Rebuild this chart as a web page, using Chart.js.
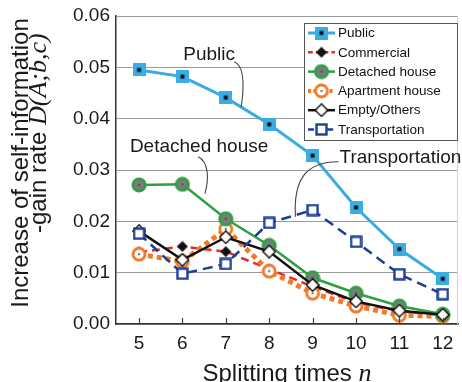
<!DOCTYPE html>
<html>
<head>
<meta charset="utf-8">
<script src="https://cdn.jsdelivr.net/npm/chart.js@4/dist/chart.umd.min.js"></script>
<style>
  html, body { margin: 0; padding: 0; background: #fff; }
  canvas { display: block; }
</style>
</head>
<body>
<canvas id="c" width="462" height="382"></canvas>
<script>
// Splitting times n
const splitTimes = [5, 6, 7, 8, 9, 10, 11, 12];

// Increase of self-information-gain rate per land-use class
const publicUse      = [0.0495, 0.0482, 0.0441, 0.0389, 0.0328, 0.0227, 0.0146, 0.0088];
const commercial     = [0.0140, 0.0151, 0.0141, 0.0107, 0.0073, 0.0042, 0.0025, 0.0017];
const detachedHouse  = [0.0271, 0.0272, 0.0205, 0.0153, 0.0090, 0.0060, 0.0035, 0.0019];
const apartmentHouse = [0.0136, 0.0122, 0.0185, 0.0103, 0.0060, 0.0035, 0.0017, 0.0015];
const emptyOthers    = [0.0181, 0.0125, 0.0169, 0.0141, 0.0076, 0.0044, 0.0026, 0.0018];
const transportation = [0.0176, 0.0098, 0.0117, 0.0197, 0.0222, 0.0160, 0.0097, 0.0058];

const yTicks = [0, 0.01, 0.02, 0.03, 0.04, 0.05, 0.06];

// ---- marker sprites ----
function sprite(size, paint) {
  const c = document.createElement('canvas');
  c.width = size; c.height = size;
  paint(c.getContext('2d'), size);
  return c;
}
const mkPublic = sprite(13, (g, s) => {
  g.fillStyle = '#3aaee4'; g.fillRect(0, 0, s, s);
  g.fillStyle = '#111'; g.fillRect(4.5, 4.5, 4, 4);
});
const mkCommercial = sprite(12, (g) => {
  g.beginPath(); g.moveTo(6, 0.5); g.lineTo(11.5, 6); g.lineTo(6, 11.5); g.lineTo(0.5, 6); g.closePath();
  g.fillStyle = '#111'; g.fill();
});
const mkDetached = sprite(16, (g) => {
  g.beginPath(); g.arc(8, 8, 6.2, 0, Math.PI * 2);
  g.fillStyle = '#7c7c7c'; g.fill();
  g.lineWidth = 2.8; g.strokeStyle = '#2ea043'; g.stroke();
  g.beginPath(); g.arc(8, 8, 1.3, 0, Math.PI * 2); g.fillStyle = '#555'; g.fill();
});
const mkApartment = sprite(16, (g) => {
  g.beginPath(); g.arc(8, 8, 6, 0, Math.PI * 2);
  g.fillStyle = '#fff'; g.fill();
  g.lineWidth = 2.8; g.strokeStyle = '#f07a28'; g.stroke();
  g.beginPath(); g.arc(8, 8, 1.2, 0, Math.PI * 2); g.fillStyle = '#777'; g.fill();
});
const mkEmpty = sprite(14, (g) => {
  g.beginPath(); g.moveTo(7, 0.8); g.lineTo(13.2, 7); g.lineTo(7, 13.2); g.lineTo(0.8, 7); g.closePath();
  g.fillStyle = '#fff'; g.fill();
  g.lineWidth = 1.4; g.strokeStyle = '#111'; g.stroke();
});
const mkTransport = sprite(13, (g) => {
  g.fillStyle = '#fff'; g.fillRect(1.5, 1.5, 10, 10);
  g.lineWidth = 2.4; g.strokeStyle = '#1c3f96'; g.strokeRect(1.5, 1.5, 10, 10);
});

const toPoints = (arr) => splitTimes.map((x, i) => ({ x, y: arr[i] }));

const datasets = [
  { label: 'Public', data: toPoints(publicUse), borderColor: '#38ace2', borderWidth: 3,
    pointStyle: mkPublic, order: 0 },
  { label: 'Commercial', data: toPoints(commercial), borderColor: '#e52b2b', borderWidth: 2.5,
    borderDash: [8, 5], pointStyle: mkCommercial, order: 5 },
  { label: 'Detached house', data: toPoints(detachedHouse), borderColor: '#2ea043', borderWidth: 2.5,
    pointStyle: mkDetached, order: 3 },
  { label: 'Apartment house', data: toPoints(apartmentHouse), borderColor: '#f07a28', borderWidth: 5,
    borderDash: [5, 4], pointStyle: mkApartment, order: 4 },
  { label: 'Empty/Others', data: toPoints(emptyOthers), borderColor: '#111', borderWidth: 2.5,
    pointStyle: mkEmpty, order: 2 },
  { label: 'Transportation', data: toPoints(transportation), borderColor: '#1c3f96', borderWidth: 2.5,
    borderDash: [10, 6], pointStyle: mkTransport, order: 1 },
];
datasets.forEach(d => { d.fill = false; d.tension = 0; d.pointRadius = 6; d.backgroundColor = d.borderColor; });

const SANS = '"Liberation Sans", Arial, sans-serif';
const SERIF = '"Liberation Serif", "Times New Roman", serif';

// Callout labels with curved leader lines, in data coordinates
const callouts = [
  { text: 'Public', at: [6.02, 0.0524],
    curve: [[7.195, 0.0511], [7.43, 0.0503], [7.43, 0.0466], [7.356, 0.0423]] },
  { text: 'Detached house', at: [4.79, 0.0345],
    curve: [[6.363, 0.0326], [6.60, 0.0316], [6.62, 0.0285], [6.52, 0.0254]] },
  { text: 'Transportation', at: [9.62, 0.0324],
    curve: [[9.597, 0.0316], [8.835, 0.0316], [8.557, 0.0281], [8.604, 0.0209]] },
];

const decorations = {
  id: 'decorations',
  beforeDatasetsDraw(chart) {
    const { ctx, chartArea } = chart;
    // faint right edge of the plot frame
    ctx.save();
    ctx.strokeStyle = '#cfd6e0'; ctx.lineWidth = 1;
    const rx = Math.round(chartArea.right) - 0.5;
    ctx.beginPath(); ctx.moveTo(rx, chartArea.top); ctx.lineTo(rx, chartArea.bottom); ctx.stroke();
    ctx.restore();
  },
  afterDatasetsDraw(chart) {
    const { ctx, scales: { x, y }, chartArea } = chart;
    const P = (p) => [x.getPixelForValue(p[0]), y.getPixelForValue(p[1])];
    ctx.save();

    // inward tick marks on the x axis
    ctx.strokeStyle = '#444'; ctx.lineWidth = 1.2;
    splitTimes.forEach(v => {
      const px = Math.round(x.getPixelForValue(v)) + 0.5;
      ctx.beginPath(); ctx.moveTo(px, chartArea.bottom); ctx.lineTo(px, chartArea.bottom - 6); ctx.stroke();
    });

    // callouts
    ctx.fillStyle = '#1a1a1a';
    ctx.font = '19px ' + SANS;
    ctx.textBaseline = 'middle';
    ctx.textAlign = 'left';
    callouts.forEach(c => {
      const [tx, ty] = P(c.at);
      ctx.fillText(c.text, tx, ty);
      const pts = c.curve.map(P);
      ctx.beginPath();
      ctx.moveTo(pts[0][0], pts[0][1]);
      ctx.bezierCurveTo(pts[1][0], pts[1][1], pts[2][0], pts[2][1], pts[3][0], pts[3][1]);
      ctx.strokeStyle = '#444'; ctx.lineWidth = 1.1; ctx.stroke();
    });

    // legend box
    const bx = 304.5, by = 23.5, bw = 153, bh = 117;
    ctx.fillStyle = '#fff'; ctx.fillRect(bx, by, bw, bh);
    ctx.strokeStyle = '#555'; ctx.lineWidth = 1; ctx.strokeRect(bx, by, bw, bh);
    ctx.font = '13.5px ' + SANS;
    ctx.textBaseline = 'middle';
    chart.data.datasets.forEach((d, i) => {
      const ry = 33 + i * 19.3;
      ctx.save();
      ctx.strokeStyle = d.borderColor;
      ctx.lineWidth = Math.min(d.borderWidth, 4);
      ctx.setLineDash(d.borderDash ? d.borderDash.map(v => v * 0.6) : []);
      ctx.beginPath(); ctx.moveTo(308, ry); ctx.lineTo(335, ry); ctx.stroke();
      ctx.restore();
      const s = d.pointStyle;
      ctx.drawImage(s, 321.5 - s.width / 2, ry - s.height / 2);
      ctx.fillStyle = '#111';
      ctx.fillText(d.label, 338, ry + 0.5);
    });

    ctx.restore();
  },
  afterDraw(chart) {
    const { ctx } = chart;
    ctx.save();
    ctx.fillStyle = '#1a1a1a';
    ctx.textBaseline = 'alphabetic';

    // y axis title (two rotated lines)
    ctx.save();
    ctx.translate(28, 163);
    ctx.rotate(-Math.PI / 2);
    ctx.font = '24px ' + SANS;
    ctx.textAlign = 'center';
    ctx.fillText('Increase of self-information', 0, 0);
    ctx.restore();

    ctx.save();
    ctx.translate(46, 233);
    ctx.rotate(-Math.PI / 2);
    ctx.textAlign = 'left';
    ctx.font = '24px ' + SANS;
    const part1 = '-gain rate ';
    ctx.fillText(part1, 0, 0);
    const w = ctx.measureText(part1).width;
    ctx.font = 'italic 26px ' + SERIF;
    ctx.fillText('D(A;b,c)', w, 0);
    ctx.restore();

    // x axis title
    const t1 = 'Splitting times ';
    ctx.font = '24px ' + SANS;
    const w1 = ctx.measureText(t1).width;
    ctx.font = 'italic 26px ' + SERIF;
    const w2 = ctx.measureText('n').width;
    const sx = 287 - (w1 + w2) / 2;
    ctx.font = '24px ' + SANS;
    ctx.textAlign = 'left';
    ctx.fillText(t1, sx, 381);
    ctx.font = 'italic 26px ' + SERIF;
    ctx.fillText('n', sx + w1, 381);

    ctx.restore();
  }
};

new Chart(document.getElementById('c'), {
  type: 'line',
  data: { datasets },
  options: {
    responsive: false,
    animation: false,
    layout: { autoPadding: false, padding: { top: 16, left: 0, right: 4, bottom: 0 } },
    plugins: { legend: { display: false }, tooltip: { enabled: false } },
    scales: {
      x: {
        type: 'linear',
        min: 4.47, max: 12.35,
        afterBuildTicks: (s) => { s.ticks = splitTimes.map(v => ({ value: v })); },
        afterFit: (s) => { s.height = 58; s.paddingLeft = 0; s.paddingRight = 0; },
        grid: { display: true, drawOnChartArea: false, drawTicks: false },
        border: { display: true, color: '#333', width: 1.5 },
        ticks: { padding: 8, color: '#1a1a1a', font: { family: SANS, size: 19 } },
      },
      y: {
        min: 0, max: 0.06,
        afterBuildTicks: (s) => { s.ticks = yTicks.map(v => ({ value: v })); },
        afterFit: (s) => { s.width = 116; s.paddingTop = 0; s.paddingBottom = 0; },
        grid: { color: '#9a9a9a', lineWidth: 1, drawTicks: false },
        border: { display: true, color: '#333', width: 1.5 },
        ticks: { padding: 6, color: '#1a1a1a', font: { family: SANS, size: 19 },
                 callback: (v) => Number(v).toFixed(2) },
      },
    },
  },
  plugins: [decorations],
});
</script>
</body>
</html>
